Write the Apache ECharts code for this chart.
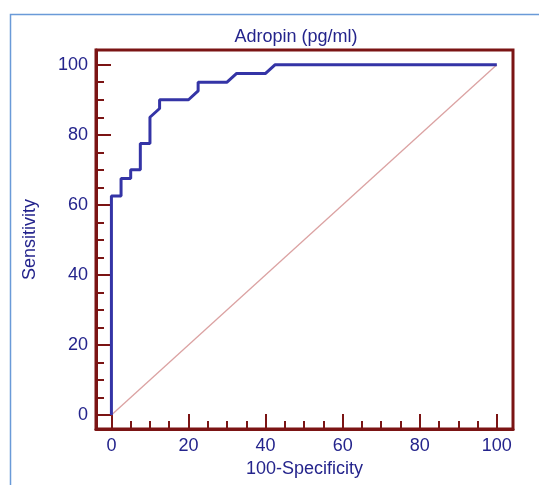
<!DOCTYPE html>
<html>
<head>
<meta charset="utf-8">
<script src="https://cdn.jsdelivr.net/npm/echarts@6/dist/echarts.min.js"></script>
<style>html,body{margin:0;padding:0;background:#fff}#c{width:539px;height:485px}</style>
</head>
<body>
<div id="c"></div>
<script>
// ROC curve points: [100-Specificity, Sensitivity]
const rocX = [0, 0, 2.5, 2.5, 5, 5, 7.5, 7.5, 10, 10, 12.5, 12.5, 20, 22.5, 22.5, 30, 32.5, 32.5, 40, 42.5, 100];
const rocY = [0, 62.5, 62.5, 67.5, 67.5, 70, 70, 77.5, 77.5, 85, 87.5, 90, 90, 92.5, 95, 95, 97.5, 97.5, 97.5, 100, 100];
const refX = [0, 100];
const refY = [0, 100];
const majorTicks = [0, 20, 40, 60, 80, 100];
const minorTicks = [5, 10, 15, 25, 30, 35, 45, 50, 55, 65, 70, 75, 85, 90, 95];
const titleText = 'Adropin (pg/ml)';
const xName = '100-Specificity';
const yName = 'Sensitivity';

const axisRed = '#7b1414';
const textBlue = '#24248c';
const fontFam = 'Liberation Sans, Arial, sans-serif';
const lo = -4, hi = 104.2;

const chart = echarts.init(document.getElementById('c'), null, {renderer: 'canvas'});
function mainAxis(name, gap, rotate, margin) {
  return {
    type: 'value', min: lo, max: hi,
    name: name, nameLocation: 'middle', nameGap: gap, nameRotate: rotate,
    nameTextStyle: {color: textBlue, fontSize: 18, fontFamily: fontFam},
    axisLine: {show: true, onZero: false, lineStyle: {color: axisRed, width: 3}},
    axisTick: {show: true, inside: true, length: 15, customValues: majorTicks, lineStyle: {color: axisRed, width: 2}},
    axisLabel: {show: true, customValues: majorTicks, color: textBlue, fontSize: 18, fontFamily: fontFam, margin: margin},
    splitLine: {show: false}
  };
}
function minorAxis() {
  return {
    type: 'value', min: lo, max: hi,
    axisLine: {show: false, onZero: false},
    axisTick: {show: true, inside: true, length: 8, customValues: minorTicks, lineStyle: {color: axisRed, width: 2}},
    axisLabel: {show: false},
    splitLine: {show: false}
  };
}
const xMain = mainAxis(xName, 30, 0, 8);
const yMain = mainAxis(yName, 57, 90, 8);
const xMinor = Object.assign(minorAxis(), {position: 'bottom'});
const yMinor = Object.assign(minorAxis(), {position: 'left'});

chart.setOption({
  animation: false,
  backgroundColor: '#ffffff',
  grid: {left: 96, right: 26, top: 50, bottom: 56, show: true, borderColor: axisRed, borderWidth: 3, backgroundColor: 'transparent'},
  xAxis: [xMain, xMinor],
  yAxis: [yMain, yMinor],
  graphic: [
    {type: 'rect', left: 8, top: 12, shape: {x: 0, y: 0, width: 620, height: 600}, style: {fill: 'none', stroke: '#6a9ad8', lineWidth: 1.5}, silent: true},
    {type: 'text', x: 296, y: 37, style: {text: titleText, fill: textBlue, font: '18px ' + fontFam, textAlign: 'center', textVerticalAlign: 'middle'}}
  ],
  series: [
    {type: 'line', data: refX.map((v, i) => [v, refY[i]]), showSymbol: false, symbol: 'none',
     lineStyle: {color: '#dba2a2', width: 1.3}, z: 2, silent: true},
    {type: 'line', data: rocX.map((v, i) => [v, rocY[i]]), showSymbol: false, symbol: 'none',
     lineStyle: {color: '#3434a6', width: 3}, z: 3, silent: true}
  ]
});
</script>
</body>
</html>
